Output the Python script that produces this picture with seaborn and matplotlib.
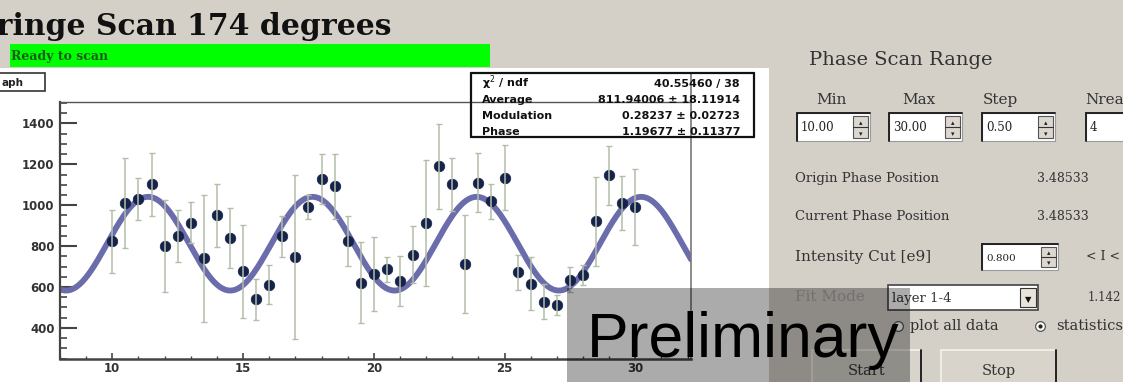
import numpy as np
import pandas as pd
import matplotlib
matplotlib.use("Agg")
import matplotlib.pyplot as plt
import seaborn as sns
from matplotlib.patches import Rectangle
from matplotlib.lines import Line2D
from matplotlib.ticker import MultipleLocator

# ---------------- data ----------------
phase_pos = [10.0, 10.5, 11.0, 11.5, 12.0, 12.5, 13.0, 13.5, 14.0, 14.5,
             15.0, 15.5, 16.0, 16.5, 17.0, 17.5, 18.0, 18.5, 19.0, 19.5,
             20.0, 20.5, 21.0, 21.5, 22.0, 22.5, 23.0, 23.5, 24.0, 24.5,
             25.0, 25.5, 26.0, 26.5, 27.0, 27.5, 28.0, 28.5, 29.0, 29.5, 30.0]
intensity = [823, 1011, 1032, 1102, 803, 849, 915, 741, 950, 839,
             676, 540, 612, 849, 746, 991, 1130, 1093, 825, 622,
             665, 686, 629, 759, 915, 1191, 1102, 713, 1111, 1019,
             1135, 673, 616, 529, 513, 635, 661, 921, 1147, 1011, 991]
intensity_err = [152, 218, 103, 155, 225, 128, 102, 310, 155, 147,
                 227, 100, 95, 100, 400, 57, 122, 160, 122, 196,
                 180, 63, 123, 139, 308, 207, 129, 241, 143, 86,
                 158, 86, 130, 86, 50, 61, 49, 219, 145, 133, 186]

fit_average = 811.94006
fit_modulation = 0.28237
fit_phase = 1.19677
fit_range = (8.0, 32.13)

stat_labels = ["\u03c7$^{2}$ / ndf", "Average", "Modulation", "Phase"]
stat_values = ["40.55460 / 38", "811.94006 \u00b1 18.11914",
               "0.28237 \u00b1 0.02723", "1.19677 \u00b1 0.11377"]

x_ticks = [10, 15, 20, 25, 30]
y_ticks = [400, 600, 800, 1000, 1200, 1400]

# ---------------- figure ----------------
sns.set_style("ticks")
plt.rcParams["font.family"] = ["DejaVu Sans"]

W, H = 1123, 382
GUI = "#d4d0c8"
fig = plt.figure(figsize=(W / 100, H / 100), dpi=100, facecolor=GUI)


def fx(x):
    return x / W


def fy(y):
    return 1 - y / H


def rect(x0, y0, x1, y1, **kw):
    r = Rectangle((fx(x0), fy(y1)), (x1 - x0) / W, (y1 - y0) / H,
                  transform=fig.transFigure, **kw)
    fig.add_artist(r)
    return r


def line(x0, y0, x1, y1, **kw):
    l = Line2D([fx(x0), fx(x1)], [fy(y0), fy(y1)], transform=fig.transFigure, **kw)
    fig.add_artist(l)
    return l


def dot(x, y, size, **kw):
    m = Line2D([fx(x)], [fy(y)], marker="o", markersize=size, linestyle="none",
               transform=fig.transFigure, **kw)
    fig.add_artist(m)
    return m


def txt(x, y, s, **kw):
    kw.setdefault("va", "baseline")
    return fig.text(fx(x), fy(y), s, **kw)


SERIF = ["DejaVu Serif"]

# white canvas
rect(0, 68, 769, 382, facecolor="white", edgecolor="none", zorder=-2)

# title + status bar
txt(-24, 35, "Fringe Scan 174 degrees", size=21.5, weight="bold",
    family=SERIF, color="#111111")
rect(10, 44, 490, 67, facecolor="#00ff00", edgecolor="none", zorder=1)
txt(11, 60, "Ready to scan", size=9, weight="bold", family=SERIF, color="#1a5a1a")

# "Graph" tab button (cut)
rect(-2, 73, 45, 91, facecolor="white", edgecolor="#333333", lw=1.2, zorder=1)
txt(2, 86, "aph", size=7.5, weight="bold", color="#222222")

# ---------------- main axes ----------------
ax = fig.add_axes([fx(60), fy(359), (691 - 60) / W, (359 - 102) / H])
ax.set_facecolor("none")

fit_x = np.linspace(fit_range[0], fit_range[1], 500)
fit_y = fit_average * (1 + fit_modulation * np.cos(fit_x + fit_phase))
sns.lineplot(x=fit_x, y=fit_y, color="#6b6cab", lw=4.2, ax=ax, zorder=2)

df = pd.DataFrame({"pos": phase_pos, "I": intensity, "err": intensity_err})
sns.scatterplot(data=df, x="pos", y="I", s=58, color="#15224a",
                edgecolor="#15224a", linewidth=0.5, ax=ax, zorder=3)
ax.errorbar(df["pos"], df["I"], yerr=df["err"], fmt="none", ecolor="#b3bea9",
            elinewidth=1.1, capsize=2.5, capthick=1.0, zorder=4)

ax.set_xlim(fit_range)
ax.set_ylim(248, 1505)
ax.set_xticks(x_ticks)
ax.set_yticks(y_ticks)
ax.xaxis.set_minor_locator(MultipleLocator(1))
ax.yaxis.set_minor_locator(MultipleLocator(50))
ax.set_xlabel("")
ax.set_ylabel("")
ax.tick_params(axis="y", which="major", direction="in", length=12.5, width=1.5,
               color="#444444", labelsize=8.5, labelcolor="#333333", pad=4)
ax.tick_params(axis="y", which="minor", direction="in", length=5, width=1.2,
               color="#444444")
ax.tick_params(axis="x", which="major", direction="in", length=4.5, width=1.2,
               color="#444444", labelsize=8.5, labelcolor="#333333", pad=2)
ax.tick_params(axis="x", which="minor", direction="in", length=2.5, width=1.0,
               color="#444444")
for lab in ax.get_xticklabels() + ax.get_yticklabels():
    lab.set_fontweight("bold")
ax.spines["left"].set_color("#444444")
ax.spines["left"].set_linewidth(1.6)
ax.spines["bottom"].set_color("#444444")
ax.spines["bottom"].set_linewidth(1.8)
ax.spines["top"].set_color("#555555")
ax.spines["top"].set_linewidth(1.0)
ax.spines["right"].set_color("#777777")
ax.spines["right"].set_linewidth(1.2)

# stats box (drawn under the frame lines, as in the reference)
rect(471, 73, 754, 137, facecolor="white", edgecolor="none", zorder=-1)
for (a, b, c, d) in [(471, 73, 754, 73), (471, 137, 754, 137),
                     (471, 73, 471, 137), (754, 73, 754, 137)]:
    line(a, b, c, d, color="#111111", lw=1.6, zorder=3)
line(691, 73, 691, 102, color="#777777", lw=1.2, zorder=2)
row_y = [87, 103, 119, 135]
for yy, lab, val in zip(row_y, stat_labels, stat_values):
    txt(482, yy, lab, size=8, weight="bold", color="#111111")
    txt(740, yy, val, size=8, weight="bold", color="#111111", ha="right")

# ---------------- right GUI panel ----------------
TC = "#333333"
txt(809, 65, "Phase Scan Range", size=14, family=SERIF, color=TC)
for xc, lab in [(831, "Min"), (919, "Max"), (1000, "Step")]:
    txt(xc, 104, lab, size=11, family=SERIF, color=TC, ha="center")
txt(1085, 104, "Nrea", size=11, family=SERIF, color=TC)


def entry(x0, y0, x1, y1, text, spinner=True, size=8.5):
    rect(x0, y0, x1, y1, facecolor="white", edgecolor="#9a9a9a", lw=0.8, zorder=2)
    line(x0, y0, x1, y0, color="#222222", lw=1.4, zorder=3)
    line(x0, y0, x0, y1, color="#222222", lw=1.4, zorder=3)
    txt(x0 + 4, (y0 + y1) / 2 + 4, text, size=size, family=SERIF, color="#222222")
    if spinner:
        sx0, sx1 = x1 - 17, x1 - 2
        ym = (y0 + y1) / 2
        rect(sx0, y0 + 3, sx1, y1 - 3, facecolor="#dcd8d0", edgecolor="#555555",
             lw=0.8, zorder=3)
        line(sx0, ym, sx1, ym, color="#333333", lw=0.8, zorder=4)
        txt((sx0 + sx1) / 2, ym - 2, "\u25b4", size=5, ha="center", color="#222222",
            zorder=5)
        txt((sx0 + sx1) / 2, y1 - 5, "\u25be", size=5, ha="center", color="#222222",
            zorder=5)


entry(797, 113, 870, 141, "10.00")
entry(889, 113, 962, 141, "30.00")
entry(982, 113, 1055, 141, "0.50")
entry(1086, 113, 1140, 141, "4", spinner=False)

txt(795, 182, "Origin Phase Position", size=9.5, family=SERIF, color=TC)
txt(1037, 182, "3.48533", size=9, family=SERIF, color=TC)
txt(795, 220, "Current Phase Position", size=9.5, family=SERIF, color=TC)
txt(1037, 220, "3.48533", size=9, family=SERIF, color=TC)

txt(795, 261, "Intensity Cut [e9]", size=11, family=SERIF, color=TC)
entry(982, 244, 1058, 270, "0.800", size=7.5)
txt(1086, 260, "< I <", size=9, family=SERIF, color=TC)

txt(795, 301, "Fit Mode", size=11, family=SERIF, color="#a8a8a8")
rect(888, 285, 1038, 310, facecolor="white", edgecolor="#444444", lw=1.2, zorder=2)
txt(892, 302, "layer 1-4", size=9.5, family=SERIF, color="#333333")
rect(1020, 288, 1036, 307, facecolor="#e8e4dc", edgecolor="#333333", lw=0.8, zorder=3)
txt(1028, 302, "\u25bc", size=6, ha="center", color="#111111", zorder=4)
txt(1088, 301, "1.142", size=8.5, family=SERIF, color=TC)

dot(898, 326, 7, markerfacecolor="white", markeredgecolor="#555555",
    markeredgewidth=0.9, zorder=2)
txt(910, 330, "plot all data", size=10.5, family=SERIF, color=TC)
dot(1040, 326, 7, markerfacecolor="white", markeredgecolor="#555555",
    markeredgewidth=0.9, zorder=2)
dot(1040, 326, 3, markerfacecolor="#222222", markeredgecolor="none", zorder=3)
txt(1056, 330, "statistics", size=10.5, family=SERIF, color=TC)


def button(x0, y0, x1, y1, text):
    rect(x0, y0, x1, y1, facecolor="#d8d4cc", edgecolor="none", zorder=2)
    line(x0, y0, x1, y0, color="#f4f2ee", lw=1.2, zorder=3)
    line(x0, y0, x0, y1, color="#f4f2ee", lw=1.2, zorder=3)
    line(x1, y0, x1, y1, color="#222222", lw=1.4, zorder=3)
    txt((x0 + x1) / 2, 375, text, size=10.5, family=SERIF, color="#333333",
        ha="center")


button(812, 350, 921, 390, "Start")
button(941, 350, 1056, 390, "Stop")

# ---------------- Preliminary overlay ----------------
rect(567, 288, 910, 382, facecolor="black", alpha=0.33, edgecolor="none", zorder=20)
txt(587, 357, "Preliminary", size=45, family=["Liberation Sans", "DejaVu Sans"],
    color="black", zorder=21)

fig.savefig("out.png", dpi=100, facecolor=GUI)
